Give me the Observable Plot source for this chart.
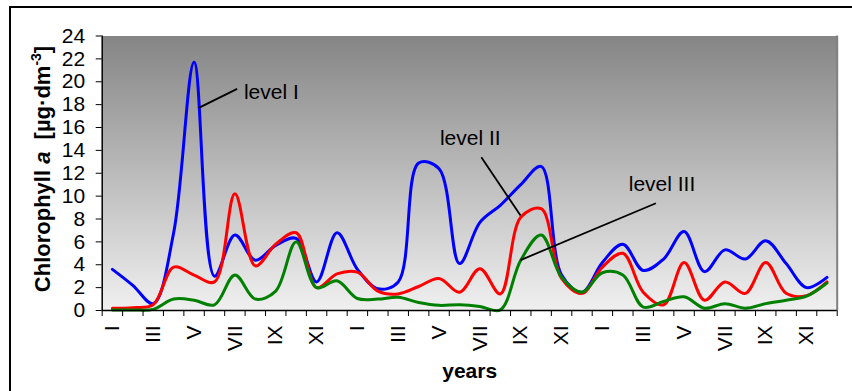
<!DOCTYPE html>
<html><head><meta charset="utf-8">
<script src="https://cdn.jsdelivr.net/npm/d3@7"></script>
<script src="https://cdn.jsdelivr.net/npm/@observablehq/plot@0.6"></script>
<style>
body{margin:0;background:#fff;}
#wrap{position:relative;width:852px;height:391px;overflow:hidden;}
#border{position:absolute;left:9px;top:6px;width:900px;height:500px;border:2px solid #000;box-sizing:border-box;}
#chart{position:absolute;left:0;top:0;}
</style></head><body>
<div id="wrap"><div id="border"></div><div id="chart"></div></div>
<script>
// Months over 3 years; labels shown every second month
const monthNames = ["I","II","III","IV","V","VI","VII","VIII","IX","X","XI","XII"];
const tickLabels = ["I","III","V","VII","IX","XI"];
const nYears = 3;
const yTicks = [0,2,4,6,8,10,12,14,16,18,20,22,24];

// Chlorophyll a [µg·dm-3], one value per month (36)
const levelI = [3.6,2.2,0.6,6.8,21.7,3.0,6.6,4.4,5.7,6.3,2.5,6.8,
                3.6,1.9,2.5,12.9,12.4,4.1,7.7,9.2,11.0,12.6,3.1,1.6,
                4.2,5.8,3.5,4.5,6.9,3.4,5.3,4.5,6.1,4.1,2.0,2.9];
const levelII = [0.2,0.25,0.5,3.8,3.1,2.5,10.2,3.9,5.8,6.8,2.0,3.2,
                 3.35,1.7,1.45,2.1,2.8,1.6,3.65,1.45,8.15,8.9,2.8,1.5,
                 3.8,5.0,1.6,0.5,4.2,0.9,2.5,1.5,4.2,1.5,1.3,2.5];
const levelIII = [0.05,0.05,0.1,1.0,0.9,0.5,3.1,1.0,1.7,6.0,2.0,2.6,
                  1.05,1.0,1.15,0.7,0.45,0.5,0.35,0.05,4.4,6.6,2.9,1.6,
                  3.3,3.1,0.3,0.8,1.2,0.2,0.6,0.2,0.6,0.9,1.25,2.4];

const seriesNames = ["level I","level II","level III"];
const seriesColors = ["#0000ff","#ff0000","#008000"];

// annotation labels and leader lines (data coordinates)
const noteText = ["level I","level II","level III"];
const noteX = [6.94, 16.54, 25.79];
const noteY = [19.09, 15.1, 11.0];
const leadX1 = [4.73, 18.57, 27.12];
const leadY1 = [17.72, 13.40, 9.38];
const leadX2 = [6.61, 20.49, 20.49];
const leadY2 = [19.38, 8.30, 4.41];

const allSeries = [levelI, levelII, levelIII];
const rows = [];
allSeries.forEach((vals, s) => vals.forEach((v, i) => rows.push({series: seriesNames[s], m: i + 0.5, value: v})));
const notes = noteText.map((t, i) => ({t, x: noteX[i], y: noteY[i], x1: leadX1[i], y1: leadY1[i], x2: leadX2[i], y2: leadY2[i]}));

const boundaries = d3.range(0, 12 * nYears + 1);
const labelPos = d3.range(0, 12 * nYears, 2).map(i => i + 0.5);
const labelOf = new Map(labelPos.map((p, k) => [p, tickLabels[k % tickLabels.length]]));

const FONT = "'Liberation Sans', Arial, sans-serif";

const chart = Plot.plot({
  width: 852, height: 391,
  marginLeft: 101.7, marginRight: 15.3, marginTop: 35.5, marginBottom: 81,
  style: {fontFamily: FONT, fontSize: "21px", background: "transparent", color: "#000"},
  x: {domain: [0, 12 * nYears], label: null},
  y: {domain: [0, 24], label: null},
  color: {domain: seriesNames, range: seriesColors},
  marks: [
    () => {
      const defs = d3.create("svg:defs");
      const g = defs.append("linearGradient").attr("id", "bg").attr("x1", 0).attr("y1", 0).attr("x2", 0).attr("y2", 1);
      g.append("stop").attr("offset", "0%").attr("stop-color", "#858585");
      g.append("stop").attr("offset", "100%").attr("stop-color", "#f0f0f0");
      return defs.node();
    },
    Plot.frame({fill: "url(#bg)", stroke: "none"}),
    Plot.ruleX([12 * nYears], {stroke: "#808080", strokeWidth: 2}),
    Plot.line(rows, {x: "m", y: "value", z: "series", stroke: "series", curve: "catmull-rom", strokeWidth: 3}),
    Plot.link(notes, {x1: "x1", y1: "y1", x2: "x2", y2: "y2", stroke: "#000", strokeWidth: 1.8}),
    Plot.text(notes, {x: "x", y: "y", text: "t", textAnchor: "start", lineAnchor: "middle", fontSize: 21, fill: "#000"}),
    Plot.axisY({ticks: yTicks, tickSize: 6, tickPadding: 11, label: null, fontSize: 21}),
    Plot.axisX({ticks: boundaries, tickSize: 6, tickFormat: () => "", label: null}),
    Plot.axisX({ticks: labelPos, tickSize: 0, tickPadding: 15, tickRotate: -90, textAnchor: "end", lineAnchor: "middle",
                tickFormat: d => labelOf.get(d), label: null, fontSize: 21}),
    Plot.ruleX([0], {stroke: "#000", strokeWidth: 1.5}),
    Plot.ruleY([0], {stroke: "#000", strokeWidth: 1.5}),
    Plot.text(["years"], {text: d => d, frameAnchor: "bottom", dy: 67, fontWeight: "bold", fontSize: 21})
  ]
});
document.getElementById("chart").appendChild(chart);

// y-axis title with rich text
const svg = d3.select(chart);
const t = svg.append("text")
  .attr("transform", "translate(50,169) rotate(-90)")
  .attr("text-anchor", "middle")
  .attr("font-family", FONT).attr("font-weight", "bold").attr("font-size", 22).attr("fill", "#000");
t.append("tspan").text("Chlorophyll ");
t.append("tspan").attr("font-style", "italic").text("a");
t.append("tspan").text("\u00a0\u00a0[µg·dm");
t.append("tspan").attr("font-size", 14).attr("dy", -9).text("-3");
t.append("tspan").attr("dy", 9).text("]");
</script>
</body></html>
